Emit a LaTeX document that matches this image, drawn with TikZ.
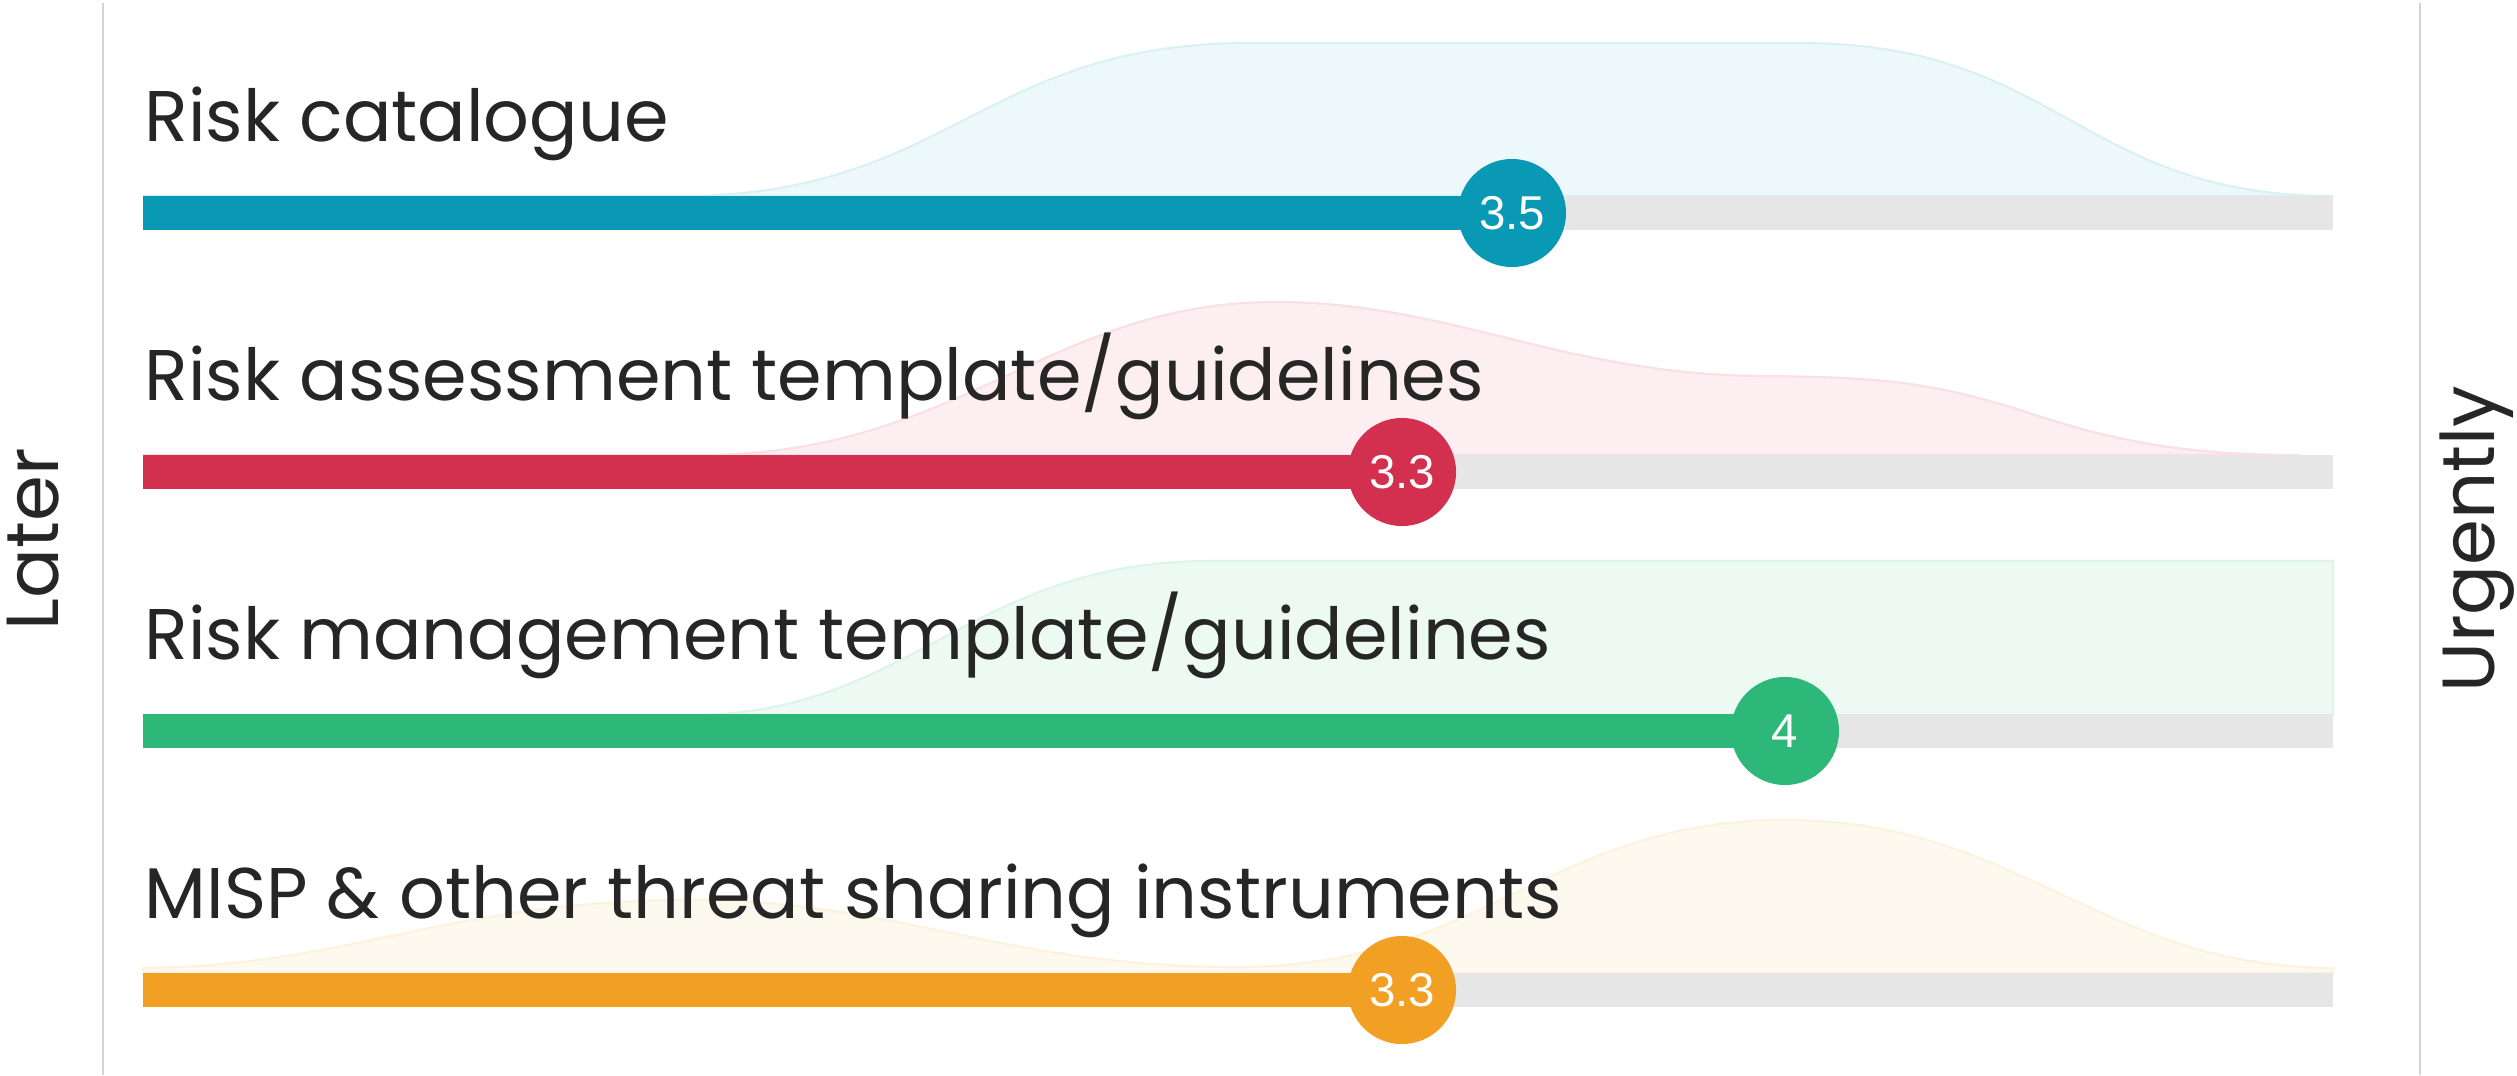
\documentclass[tikz,border=0pt]{standalone}
\usepackage{fontspec}
\setmainfont{Poppins}
\newfontfamily\numfont{Liberation Sans}
\definecolor{cblue}{RGB}{9,153,181}
\definecolor{cred}{RGB}{210,48,78}
\definecolor{cgreen}{RGB}{45,183,120}
\definecolor{corange}{RGB}{242,160,35}
\definecolor{ctrack}{RGB}{230,230,230}
\definecolor{ctext}{RGB}{38,38,38}
\definecolor{caxis}{RGB}{212,212,212}
\definecolor{dblue}{RGB}{237,248,251}
\definecolor{dred}{RGB}{253,238,241}
\definecolor{dgreen}{RGB}{236,250,243}
\definecolor{dorange}{RGB}{254,249,238}
\tikzset{
  rowlabel/.style={anchor=base west, inner sep=0pt, text=ctext, font=\fontsize{20.4}{24}\selectfont},
  axislabel/.style={anchor=base, inner sep=0pt, rotate=90, text=ctext, font=\fontsize{21}{25}\selectfont},
  valcirc/.style={circle, minimum size=1.08cm, inner sep=0pt, text=white, font=\numfont\fontsize{13.5}{16}\selectfont},
  density/.style={line width=0.6pt},
  axisline/.style={draw=caxis, line width=0.8pt},
}
\begin{document}
\begin{tikzpicture}[x=0.01cm,y=-0.01cm]
\useasboundingbox (0,0) rectangle (2517,1075);
\fill[white] (0,0) rectangle (2517,1075);
% densities
\filldraw[density, fill=dblue, draw=dblue!92!cblue] (143,196) -- (680,196) .. controls (950,196) and (980,43) .. (1250,43) -- (1800,43) .. controls (2060,43) and (2080,196) .. (2333,196) -- cycle;
\filldraw[density, fill=dred, draw=dred!92!cred] (143,455) -- (700,455) .. controls (960,455) and (1050,302) .. (1275,302) .. controls (1450,302) and (1560,374) .. (1760,376) .. controls (1880,377) and (1930,382) .. (2020,410) .. controls (2110,440) and (2180,455) .. (2300,455) -- cycle;
\filldraw[density, fill=dgreen, draw=dgreen!92!cgreen] (143,715) -- (690,715) .. controls (910,715) and (970,561) .. (1210,561) -- (2333,561) -- (2333,715) -- cycle;
\filldraw[density, fill=dorange, draw=dorange!92!corange] (143,973) -- (143,968) .. controls (350,966) and (450,900) .. (690,900) .. controls (900,900) and (1000,967) .. (1238,967) .. controls (1480,967) and (1550,820) .. (1785,820) .. controls (2020,820) and (2100,967) .. (2333,968) -- (2333,973) -- cycle;
% axis lines
\draw[axisline] (103,3) -- (103,1075);
\draw[axisline] (2420,3) -- (2420,1075);
\node[axislabel] (later) at (58,539) {Later};
\node[axislabel] (urgently) at (2494,539) {Urgently};
% tracks
\foreach \c in {213,472,731,990} {
  \fill[ctrack] (143,\c-17) rectangle (2333,\c+17);
}
% bars
\fill[cblue] (143,196) rectangle (1512,230);
\fill[cred] (143,455) rectangle (1402,489);
\fill[cgreen] (143,714) rectangle (1785,748);
\fill[corange] (143,973) rectangle (1402,1007);
% value circles
\node[valcirc, fill=cblue] (v1) at (1512,213) {3.5};
\node[valcirc, fill=cred] (v2) at (1402,472) {3.3};
\node[valcirc, fill=cgreen] (v3) at (1785,731) {4};
\node[valcirc, fill=corange] (v4) at (1402,990) {3.3};
% labels
\node[rowlabel] (l1) at (144,141) {Risk catalogue};
\node[rowlabel] (l2) at (144,400) {Risk assessment template/guidelines};
\node[rowlabel] (l3) at (144,659) {Risk management template/guidelines};
\node[rowlabel] (l4) at (144,918) {MISP \& other threat sharing instruments};
\end{tikzpicture}
\end{document}
